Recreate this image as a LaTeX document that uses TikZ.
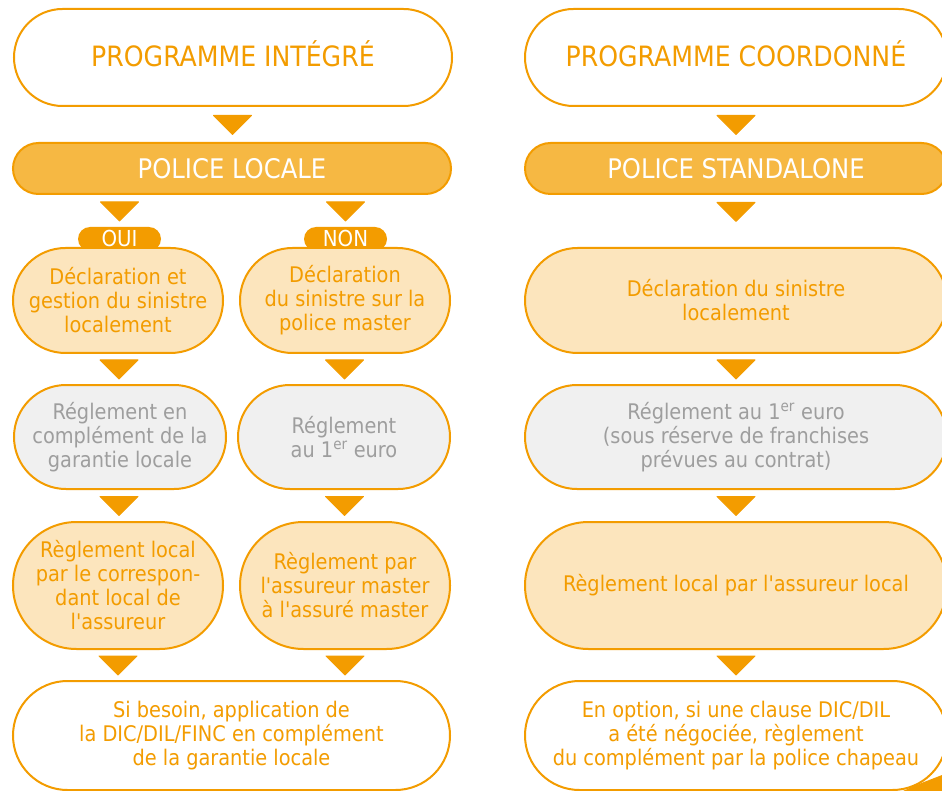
\documentclass[tikz,border=0pt]{standalone}
\usepackage{fontspec}
\setmainfont{DejaVu Sans Condensed}[Ligatures=TeXOff]
\usetikzlibrary{shapes.misc}

\definecolor{orangeA}{HTML}{F39C00}
\definecolor{policefill}{HTML}{F6B843}
\definecolor{lightfill}{HTML}{FCE5BD}
\definecolor{greyfill}{HTML}{F0F0F0}
\definecolor{greytext}{HTML}{9E9E9E}

\tikzset{
  box/.style={rounded rectangle, draw=orangeA, line width=2pt, align=center,
    inner sep=0pt, text=orangeA, font=\fontsize{21.5}{24}\selectfont},
  whitebox/.style={box, fill=white},
  lightbox/.style={box, fill=lightfill},
  greybox/.style={box, fill=greyfill, text=greytext},
  titlebox/.style={whitebox, font=\fontsize{28}{32}\selectfont},
  policebox/.style={box, fill=policefill, text=white, font=\fontsize{27}{30}\selectfont},
  pill/.style={rounded rectangle, fill=orangeA, text=white, inner sep=0pt,
    minimum width=83pt, minimum height=24pt, font=\fontsize{22}{24}\selectfont},
  tri/.style={fill=orangeA, draw=orangeA, line width=1pt, line join=round},
}

% downward flow marker placed on the segment between two anchors
\newcommand\flowtri[3][0.5]{%
  \path (#2) -- (#3) coordinate[pos=#1] (tm);
  \filldraw[tri] ([shift={(-19pt,9pt)}]tm) -- ([shift={(19pt,9pt)}]tm)
    -- ([shift={(0pt,-10pt)}]tm) -- cycle;}

\begin{document}
\begin{tikzpicture}[x=1pt,y=-1pt]
\useasboundingbox (0,0) rectangle (942,791);
\fill[white] (0,0) rectangle (942,791);
\clip (0,0) rectangle (942,791);

% ---- left column: programme integre
\node[titlebox, minimum width=438pt, minimum height=97pt] (p1) at (233,57.5)
  {\raisebox{7pt}{PROGRAMME INTÉGRÉ}};
\node[policebox, minimum width=438pt, minimum height=51pt] (pl) at (232,168.5) {POLICE LOCALE};

\node[pill] (oui) at (119.5,239) {\raisebox{1pt}{OUI}};
\node[pill] (non) at (345.5,239) {\raisebox{1pt}{NON}};

\node[lightbox, minimum width=210pt, minimum height=105pt] (d1) at (118,300.5)
  {Déclaration et\\gestion du sinistre\\localement};
\node[lightbox, minimum width=210pt, minimum height=105pt] (d2) at (345,300.5)
  {Déclaration\\du sinistre sur la\\police master};

\node[greybox, minimum width=212pt, minimum height=104pt] (r1) at (120,437)
  {Réglement en\\complément de la\\garantie locale};
\node[greybox, minimum width=212pt, minimum height=104pt] (r2) at (344,437)
  {Réglement\\au 1\textsuperscript{er} euro};

\node[lightbox, minimum width=210pt, minimum height=127pt] (l1) at (118,585.5)
  {Règlement local\\par le correspon-\\dant local de\\l'assureur};
\node[lightbox, minimum width=210pt, minimum height=127pt] (l2) at (345,585.5)
  {Règlement par\\l'assureur master\\à l'assuré master};

\node[whitebox, minimum width=437pt, minimum height=109pt] (s1) at (231.5,735.5)
  {Si besoin, application de\\la DIC/DIL/FINC en complément\\de la garantie locale};

% ---- right column: programme coordonne
\node[titlebox, minimum width=422pt, minimum height=97pt] (q1) at (736,57.5)
  {\raisebox{7pt}{PROGRAMME COORDONNÉ}};
\node[policebox, minimum width=422pt, minimum height=51pt] (q2) at (736,168.5) {POLICE STANDALONE};
\node[lightbox, minimum width=422pt, minimum height=105pt] (q3) at (736,300.5)
  {Déclaration du sinistre\\localement};
\node[greybox, minimum width=422pt, minimum height=104pt] (q4) at (736,437)
  {Réglement au 1\textsuperscript{er} euro\\(sous réserve de franchises\\prévues au contrat)};
\node[lightbox, minimum width=422pt, minimum height=127pt] (q5) at (736,585.5)
  {Règlement local par l'assureur local};
\node[whitebox, minimum width=422pt, minimum height=109pt] (q6) at (736,735.5)
  {En option, si une clause DIC/DIL\\a été négociée, règlement\\du complément par la police chapeau};

% ---- flow markers
\flowtri{p1.south}{pl.north}
\flowtri{pl.south -| oui.north}{oui.north}
\flowtri{pl.south -| non.north}{non.north}
\flowtri{d1.south}{r1.north}
\flowtri{d2.south}{r2.north}
\flowtri{r1.south}{l1.north}
\flowtri{r2.south}{l2.north}
\flowtri{l1.south}{l1.south |- s1.north}
\flowtri{l2.south}{l2.south |- s1.north}

\flowtri{q1.south}{q2.north}
\flowtri[0.315]{q2.south}{q3.north}
\flowtri{q3.south}{q4.north}
\flowtri{q4.south}{q5.north}
\flowtri{q5.south}{q6.north}

% corner wedge at the lower right
\fill[orangeA] (903,791) .. controls (918,784) and (932,779) .. (942,775) -- (942,791) -- cycle;
\end{tikzpicture}
\end{document}
